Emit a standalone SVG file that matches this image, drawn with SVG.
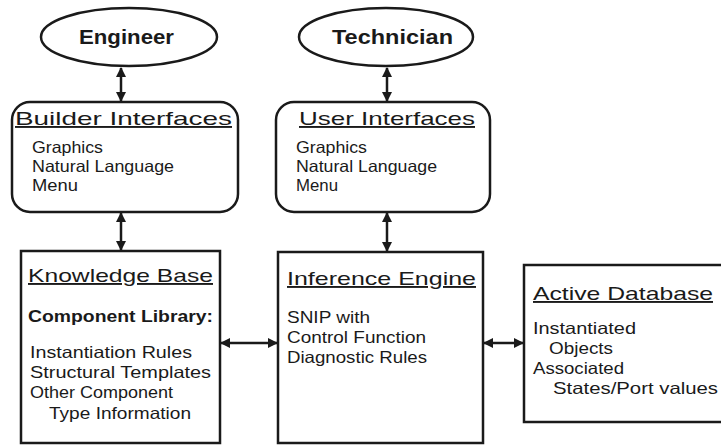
<svg xmlns="http://www.w3.org/2000/svg" width="721" height="446" viewBox="0 0 721 446">
<defs>
<style>
.shape{fill:#fff;stroke:#1a1a1a;stroke-width:2.5}
.conn{stroke:#1a1a1a;stroke-width:2.5;fill:none}
.title{font-family:"Liberation Sans",Arial,sans-serif;font-size:19px;fill:#1a1a1a;text-decoration:underline}
.actor{font-family:"Liberation Sans",Arial,sans-serif;font-size:19.5px;font-weight:bold;fill:#1a1a1a}
.body{font-family:"Liberation Sans",Arial,sans-serif;font-size:16.5px;fill:#1a1a1a}
.bold{font-family:"Liberation Sans",Arial,sans-serif;font-size:16.5px;font-weight:bold;fill:#1a1a1a}
</style>
<marker id="ah" viewBox="0 0 10 10" refX="9" refY="5" markerWidth="4" markerHeight="4" orient="auto-start-reverse" markerUnits="strokeWidth">
<path d="M0,0 L10,5 L0,10 z" fill="#1a1a1a"/>
</marker>
</defs>
<rect width="721" height="446" fill="#fff"/>
<g id="connectors">
<line class="conn" x1="121" y1="68" x2="121" y2="101" marker-start="url(#ah)" marker-end="url(#ah)"/>
<line class="conn" x1="387" y1="68" x2="387" y2="101" marker-start="url(#ah)" marker-end="url(#ah)"/>
<line class="conn" x1="121" y1="213" x2="121" y2="250" marker-start="url(#ah)" marker-end="url(#ah)"/>
<line class="conn" x1="387" y1="213" x2="387" y2="251" marker-start="url(#ah)" marker-end="url(#ah)"/>
<line class="conn" x1="221" y1="343" x2="277" y2="343" marker-start="url(#ah)" marker-end="url(#ah)"/>
<line class="conn" x1="484" y1="343" x2="523" y2="343" marker-start="url(#ah)" marker-end="url(#ah)"/>
</g>
<g id="engineer">
<ellipse class="shape" cx="129" cy="37" rx="88" ry="29"/>
<text class="actor" x="79" y="44" textLength="95" lengthAdjust="spacingAndGlyphs">Engineer</text>
</g>
<g id="technician">
<ellipse class="shape" cx="386" cy="37" rx="87" ry="29"/>
<text class="actor" x="332" y="44" textLength="121" lengthAdjust="spacingAndGlyphs">Technician</text>
</g>
<g id="builder-interfaces">
<rect class="shape" x="12" y="102" width="226" height="110" rx="18"/>
<text class="title" x="15" y="125" textLength="217" lengthAdjust="spacingAndGlyphs">Builder  Interfaces</text>
<text class="body" x="32" y="153" textLength="71" lengthAdjust="spacingAndGlyphs">Graphics</text>
<text class="body" x="32" y="172" textLength="142" lengthAdjust="spacingAndGlyphs">Natural Language</text>
<text class="body" x="32" y="191" textLength="46" lengthAdjust="spacingAndGlyphs">Menu</text>
</g>
<g id="user-interfaces">
<rect class="shape" x="276" y="102" width="214" height="110" rx="18"/>
<text class="title" x="299" y="125" textLength="176" lengthAdjust="spacingAndGlyphs">User  Interfaces</text>
<text class="body" x="296" y="153" textLength="71" lengthAdjust="spacingAndGlyphs">Graphics</text>
<text class="body" x="296" y="172" textLength="141" lengthAdjust="spacingAndGlyphs">Natural Language</text>
<text class="body" x="296" y="191" textLength="42" lengthAdjust="spacingAndGlyphs">Menu</text>
</g>
<g id="knowledge-base">
<rect class="shape" x="21" y="251" width="199" height="192"/>
<text class="title" x="28" y="282" textLength="185" lengthAdjust="spacingAndGlyphs">Knowledge Base</text>
<text class="bold" x="28" y="322" textLength="185" lengthAdjust="spacingAndGlyphs">Component Library:</text>
<text class="body" x="30" y="358" textLength="162" lengthAdjust="spacingAndGlyphs">Instantiation Rules</text>
<text class="body" x="30" y="378" textLength="181" lengthAdjust="spacingAndGlyphs">Structural Templates</text>
<text class="body" x="30" y="398" textLength="143" lengthAdjust="spacingAndGlyphs">Other Component</text>
<text class="body" x="49" y="419" textLength="142" lengthAdjust="spacingAndGlyphs">Type Information</text>
</g>
<g id="inference-engine">
<rect class="shape" x="278" y="252" width="205" height="191"/>
<text class="title" x="287" y="285" textLength="189" lengthAdjust="spacingAndGlyphs">Inference  Engine</text>
<text class="body" x="287" y="323" textLength="83" lengthAdjust="spacingAndGlyphs">SNIP with</text>
<text class="body" x="287" y="343" textLength="139" lengthAdjust="spacingAndGlyphs">Control Function</text>
<text class="body" x="287" y="363" textLength="140" lengthAdjust="spacingAndGlyphs">Diagnostic Rules</text>
</g>
<g id="active-database">
<rect class="shape" x="524" y="265" width="210" height="157"/>
<text class="title" x="533" y="300" textLength="180" lengthAdjust="spacingAndGlyphs">Active  Database</text>
<text class="body" x="533" y="334" textLength="103" lengthAdjust="spacingAndGlyphs">Instantiated</text>
<text class="body" x="549" y="354" textLength="64" lengthAdjust="spacingAndGlyphs">Objects</text>
<text class="body" x="533" y="374" textLength="91" lengthAdjust="spacingAndGlyphs">Associated</text>
<text class="body" x="553" y="394" textLength="165" lengthAdjust="spacingAndGlyphs">States/Port values</text>
</g>
</svg>
